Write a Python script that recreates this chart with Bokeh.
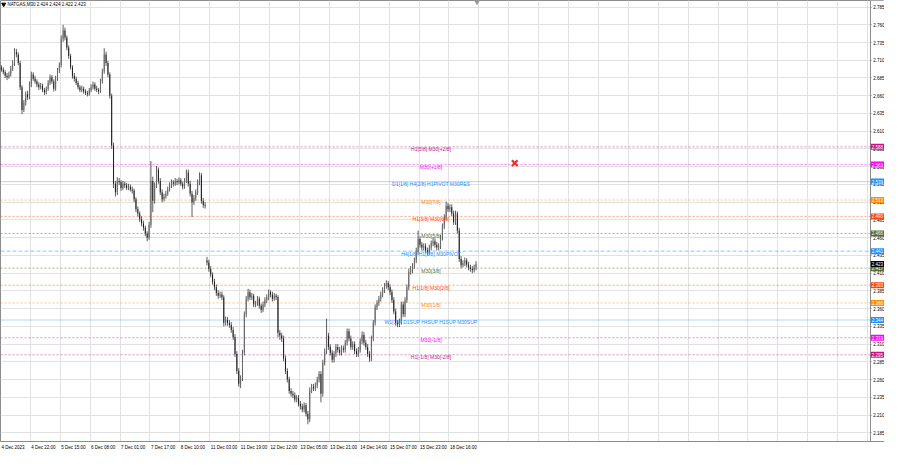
from bokeh.plotting import figure
from bokeh.models import (Range1d, FixedTicker, Span, Label, NumeralTickFormatter,
                          BoxAnnotation)
from bokeh.core.properties import value
from bokeh.embed import file_html
from bokeh.resources import INLINE

# ---------------- data ----------------
title_text = "NATGAS,M30 2.424 2.424 2.422 2.423"
first_open = 2.700
gap_index = 110          # first bar after the weekend gap
gap_open = 2.428

close = [
    2.697, 2.693, 2.688, 2.686, 2.690, 2.698, 2.705, 2.722, 2.718, 2.706,
    2.672, 2.640, 2.650, 2.662, 2.658, 2.676, 2.690, 2.684, 2.680, 2.676,
    2.672, 2.674, 2.668, 2.665, 2.670, 2.678, 2.686, 2.680, 2.670, 2.684,
    2.696, 2.703, 2.740, 2.752, 2.742, 2.728, 2.716, 2.700, 2.688, 2.684,
    2.678, 2.672, 2.668, 2.670, 2.666, 2.664, 2.662, 2.668, 2.672, 2.676,
    2.670, 2.668, 2.666, 2.680, 2.694, 2.718, 2.706, 2.690, 2.660, 2.590,
    2.536, 2.524, 2.540, 2.538, 2.530, 2.536, 2.534, 2.530, 2.532, 2.528,
    2.526, 2.514, 2.500, 2.494, 2.486, 2.480, 2.474, 2.466, 2.460, 2.478,
    2.540, 2.512, 2.534, 2.556, 2.540, 2.524, 2.514, 2.518, 2.522, 2.528,
    2.534, 2.538, 2.536, 2.540, 2.538, 2.541, 2.536, 2.532, 2.540, 2.552,
    2.536, 2.522, 2.510, 2.516, 2.524, 2.538, 2.548, 2.512, 2.506, 2.505,
    2.425, 2.416, 2.408, 2.398, 2.390, 2.382, 2.378, 2.380, 2.376, 2.340,
    2.344, 2.340, 2.337, 2.330, 2.320, 2.296, 2.272, 2.254, 2.262, 2.298,
    2.352, 2.374, 2.383, 2.376, 2.378, 2.366, 2.368, 2.374, 2.364, 2.358,
    2.366, 2.372, 2.376, 2.383, 2.380, 2.374, 2.378, 2.376, 2.326, 2.322,
    2.318, 2.290, 2.272, 2.260, 2.244, 2.240, 2.238, 2.232, 2.234, 2.226,
    2.222, 2.218, 2.224, 2.212, 2.204, 2.245, 2.250, 2.248, 2.252, 2.260,
    2.268, 2.240, 2.284, 2.300, 2.322, 2.306, 2.298, 2.288, 2.296, 2.306,
    2.302, 2.298, 2.304, 2.302, 2.312, 2.328, 2.318, 2.306, 2.310, 2.300,
    2.296, 2.302, 2.314, 2.323, 2.312, 2.306, 2.296, 2.290, 2.318, 2.340,
    2.362, 2.368, 2.374, 2.380, 2.386, 2.392, 2.396, 2.390, 2.383, 2.372,
    2.356, 2.340, 2.338, 2.342, 2.366, 2.352, 2.372, 2.390, 2.412, 2.414,
    2.420, 2.428, 2.440, 2.458, 2.450, 2.446, 2.448, 2.442, 2.440, 2.446,
    2.452, 2.455, 2.450, 2.446, 2.448, 2.460, 2.476, 2.489, 2.505, 2.500,
    2.503, 2.494, 2.482, 2.494, 2.470, 2.430, 2.421, 2.424, 2.428, 2.422,
    2.418, 2.416, 2.414, 2.418, 2.423,
]

high = [
    2.703, 2.700, 2.696, 2.692, 2.694, 2.702, 2.710, 2.727, 2.726, 2.721,
    2.709, 2.675, 2.654, 2.666, 2.667, 2.680, 2.694, 2.693, 2.688, 2.683,
    2.679, 2.678, 2.677, 2.671, 2.673, 2.682, 2.690, 2.689, 2.683, 2.688,
    2.699, 2.707, 2.745, 2.760, 2.756, 2.745, 2.731, 2.719, 2.703, 2.692,
    2.687, 2.681, 2.675, 2.674, 2.673, 2.669, 2.667, 2.671, 2.676, 2.680,
    2.679, 2.674, 2.671, 2.684, 2.698, 2.727, 2.722, 2.709, 2.693, 2.663,
    2.594, 2.540, 2.545, 2.544, 2.541, 2.540, 2.539, 2.537, 2.536, 2.535,
    2.532, 2.529, 2.517, 2.504, 2.497, 2.490, 2.484, 2.477, 2.469, 2.482,
    2.568, 2.546, 2.538, 2.561, 2.559, 2.544, 2.528, 2.522, 2.526, 2.532,
    2.538, 2.542, 2.541, 2.544, 2.543, 2.545, 2.544, 2.539, 2.544, 2.556,
    2.556, 2.540, 2.526, 2.520, 2.528, 2.542, 2.552, 2.551, 2.516, 2.510,
    2.433, 2.429, 2.420, 2.411, 2.402, 2.394, 2.386, 2.384, 2.384, 2.379,
    2.349, 2.348, 2.344, 2.341, 2.334, 2.324, 2.300, 2.276, 2.266, 2.302,
    2.356, 2.378, 2.388, 2.387, 2.382, 2.381, 2.371, 2.378, 2.377, 2.367,
    2.370, 2.376, 2.380, 2.387, 2.386, 2.384, 2.382, 2.381, 2.379, 2.330,
    2.326, 2.322, 2.294, 2.276, 2.264, 2.248, 2.244, 2.242, 2.238, 2.238,
    2.230, 2.226, 2.228, 2.227, 2.216, 2.249, 2.254, 2.254, 2.256, 2.264,
    2.272, 2.272, 2.288, 2.304, 2.346, 2.326, 2.310, 2.302, 2.300, 2.310,
    2.310, 2.306, 2.308, 2.308, 2.316, 2.332, 2.332, 2.322, 2.314, 2.314,
    2.304, 2.306, 2.318, 2.328, 2.327, 2.316, 2.310, 2.300, 2.322, 2.344,
    2.366, 2.372, 2.378, 2.384, 2.390, 2.396, 2.400, 2.399, 2.394, 2.387,
    2.376, 2.360, 2.344, 2.346, 2.370, 2.370, 2.376, 2.394, 2.416, 2.420,
    2.424, 2.432, 2.446, 2.470, 2.462, 2.454, 2.452, 2.452, 2.446, 2.450,
    2.456, 2.460, 2.459, 2.454, 2.452, 2.464, 2.480, 2.493, 2.511, 2.509,
    2.507, 2.507, 2.498, 2.498, 2.497, 2.474, 2.434, 2.428, 2.432, 2.431,
    2.426, 2.422, 2.420, 2.422, 2.427,
]

low = [
    2.694, 2.690, 2.685, 2.682, 2.684, 2.687, 2.695, 2.702, 2.714, 2.703,
    2.668, 2.634, 2.637, 2.646, 2.654, 2.655, 2.672, 2.681, 2.677, 2.672,
    2.668, 2.669, 2.665, 2.661, 2.662, 2.667, 2.675, 2.677, 2.666, 2.667,
    2.681, 2.692, 2.700, 2.736, 2.738, 2.724, 2.712, 2.697, 2.684, 2.680,
    2.675, 2.669, 2.665, 2.665, 2.663, 2.661, 2.659, 2.660, 2.665, 2.669,
    2.667, 2.665, 2.662, 2.664, 2.677, 2.691, 2.702, 2.686, 2.656, 2.585,
    2.530, 2.518, 2.520, 2.534, 2.526, 2.527, 2.530, 2.527, 2.527, 2.525,
    2.522, 2.510, 2.496, 2.490, 2.482, 2.476, 2.470, 2.462, 2.455, 2.457,
    2.474, 2.496, 2.508, 2.530, 2.536, 2.520, 2.510, 2.511, 2.515, 2.519,
    2.525, 2.530, 2.532, 2.533, 2.534, 2.535, 2.533, 2.528, 2.529, 2.537,
    2.532, 2.518, 2.489, 2.506, 2.512, 2.520, 2.534, 2.508, 2.502, 2.501,
    2.421, 2.412, 2.404, 2.394, 2.386, 2.378, 2.374, 2.375, 2.372, 2.335,
    2.336, 2.336, 2.333, 2.326, 2.316, 2.292, 2.268, 2.250, 2.248, 2.258,
    2.294, 2.348, 2.370, 2.372, 2.372, 2.362, 2.362, 2.364, 2.360, 2.354,
    2.355, 2.362, 2.368, 2.372, 2.376, 2.370, 2.371, 2.372, 2.320, 2.316,
    2.313, 2.286, 2.268, 2.256, 2.240, 2.236, 2.234, 2.228, 2.228, 2.222,
    2.218, 2.214, 2.214, 2.208, 2.197, 2.200, 2.241, 2.244, 2.244, 2.248,
    2.256, 2.228, 2.236, 2.280, 2.296, 2.302, 2.294, 2.284, 2.284, 2.292,
    2.298, 2.294, 2.294, 2.298, 2.298, 2.308, 2.314, 2.302, 2.302, 2.296,
    2.292, 2.292, 2.298, 2.310, 2.308, 2.302, 2.292, 2.285, 2.286, 2.314,
    2.336, 2.358, 2.364, 2.370, 2.376, 2.382, 2.388, 2.386, 2.379, 2.368,
    2.352, 2.336, 2.334, 2.334, 2.338, 2.348, 2.348, 2.368, 2.386, 2.408,
    2.410, 2.416, 2.424, 2.436, 2.446, 2.442, 2.442, 2.438, 2.436, 2.436,
    2.442, 2.448, 2.446, 2.442, 2.442, 2.444, 2.456, 2.472, 2.485, 2.496,
    2.496, 2.490, 2.478, 2.478, 2.466, 2.426, 2.417, 2.418, 2.420, 2.418,
    2.414, 2.412, 2.410, 2.411, 2.414,
]

time_labels = ["4 Dec 2023", "4 Dec 22:00", "5 Dec 15:00", "6 Dec 08:00",
               "7 Dec 01:00", "7 Dec 17:00", "8 Dec 10:00", "11 Dec 03:00",
               "11 Dec 19:00", "12 Dec 12:00", "13 Dec 05:00", "13 Dec 21:00",
               "14 Dec 14:00", "15 Dec 07:00", "15 Dec 23:00", "18 Dec 16:00"]
bars_per_label = 16

levels = [2.588, 2.563, 2.539, 2.513, 2.490, 2.466, 2.441,
          2.417, 2.393, 2.368, 2.344, 2.319, 2.295]
level_names = ["H1[5/8] M30[+2/8]", "M30[+1/8]", "D1[1/8] H4[2/8] H1PIVOT M30RES",
               "M30[7/8]", "H1[3/8] M30[6/8]", "M30[5/8]", "H4[1/8] H1[2/8] M30PIVOT",
               "M30[3/8]", "H1[1/8] M30[2/8]", "M30[1/8]",
               "W1[1/8] D1SUP H4SUP H1SUP M30SUP", "M30[-1/8]", "H1[-1/8] M30[-2/8]"]
level_colors = ["#C71585", "#FF00FF", "#1E90FF", "#FF8C00", "#FF4500", "#556B2F",
                "#1E90FF", "#556B2F", "#FF4500", "#FF8C00", "#1E90FF", "#FF00FF",
                "#C71585"]
level_styles = ["dot", "dot", "solid", "dot", "dot", "dot", "dash",
                "dot", "dot", "dot", "solid", "dot", "dot"]
bid_price = 2.423

cross_x = [274.7]
cross_y = [2.565]

y_tick_values = [2.185, 2.210, 2.235, 2.260, 2.285, 2.310, 2.335, 2.360, 2.385,
                 2.410, 2.435, 2.460, 2.485, 2.510, 2.535, 2.560, 2.585, 2.610,
                 2.635, 2.660, 2.685, 2.710, 2.735, 2.760, 2.785]

# ---------------- figure ----------------
FONT = "Liberation Sans"
AX_FONT = "4.5px"
PX_PER_BAR = 1.843
X_END = 472.6        # right edge of the frame (bars)
AXIS_X = 465.0       # price scale line (bars)

p = figure(width=884, height=452, output_backend="svg", toolbar_location=None,
           x_range=Range1d(-0.5, X_END), y_range=Range1d(2.1728, 2.7942),
           y_axis_location="right", min_border_left=0, min_border_top=0,
           min_border_right=0, min_border_bottom=0)
p.background_fill_color = "white"
p.border_fill_color = "white"
p.outline_line_color = "#8c8c8c"

# vertical grid every 16 bars; time labels start at their grid line
grid_ticks = [k * bars_per_label - 0.5 for k in range(30)]
p.xgrid.ticker = FixedTicker(ticks=grid_ticks)

char_w = {" ": 0.278, ":": 0.278, "D": 0.722, "e": 0.556, "c": 0.5}
def half_width_bars(s):
    em = sum(char_w.get(ch, 0.556) for ch in s)
    return em * 4.5 / 2.0 / PX_PER_BAR

label_ticks = [grid_ticks[k] + half_width_bars(t) + 0.4 for k, t in enumerate(time_labels)]
p.xaxis.ticker = FixedTicker(ticks=label_ticks)
p.xaxis.major_label_overrides = {t: s for t, s in zip(label_ticks, time_labels)}
p.xaxis.major_label_text_font = FONT
p.xaxis.major_label_text_font_size = AX_FONT
p.xaxis.major_label_text_color = "#000000"
p.xaxis.major_label_standoff = 3
p.xaxis.major_tick_out = 0
p.xaxis.major_tick_in = 0
p.xaxis.minor_tick_line_color = None
p.xaxis.axis_line_color = "#8c8c8c"
p.xaxis.major_tick_line_color = None

# price scale drawn at a fixed place inside the chart's right edge
p.yaxis.fixed_location = AXIS_X
p.yaxis.ticker = FixedTicker(ticks=y_tick_values)
p.yaxis.formatter = NumeralTickFormatter(format="0.000")
p.yaxis.major_label_text_font = FONT
p.yaxis.major_label_text_font_size = AX_FONT
p.yaxis.major_label_text_color = "#000000"
p.yaxis.major_label_standoff = 2
p.yaxis.major_tick_out = 1
p.yaxis.major_tick_in = 0
p.yaxis.minor_tick_line_color = None
p.yaxis.axis_line_color = "#8c8c8c"
p.yaxis.major_tick_line_color = "#8c8c8c"

p.xgrid.grid_line_color = "#e2e2e2"
p.ygrid.grid_line_color = "#e2e2e2"

# level lines (underlay, so the scale column can cover them)
dash_map = {"dot": "2 2", "dash": "4 2", "solid": "solid"}
for lv, col, st in zip(levels, level_colors, level_styles):
    alpha = 0.35 if st == "solid" else 0.5
    p.add_layout(Span(location=lv, dimension="width", line_color=col,
                      line_dash=dash_map[st], line_width=1, line_alpha=alpha,
                      level="underlay"))

# candles
n = len(close)
xs = list(range(n))
opens = [first_open] + close[:-1]
opens[gap_index] = gap_open
tops = [max(o, c) for o, c in zip(opens, close)]
bots = [min(o, c) for o, c in zip(opens, close)]
fills = ["#6a6a6a" if c >= o else "#1a1a1a" for o, c in zip(opens, close)]
p.segment(x0=xs, y0=low, x1=xs, y1=high, line_color="#333333", line_width=0.8)
p.vbar(x=xs, width=0.5, top=tops, bottom=bots, fill_color=fills, line_color=None)

# level names on the chart
text_x = [229.9] * len(levels)
text_y = [lv - 0.0033 for lv in levels]
p.text(x=text_x, y=text_y, text=level_names, text_color=level_colors,
       text_font=value(FONT), text_font_size="5px",
       text_align="center", text_baseline="middle")

# red cross object
p.scatter(x=cross_x, y=cross_y, marker="x", size=8, line_color="#E5332A",
          line_width=2.2)

# title and shift marker
p.scatter(x=[1.2], y=[2.7888], marker="inverted_triangle", size=4,
          fill_color="#000000", line_color="#000000")
p.text(x=[3.2], y=[2.7888], text=[title_text], text_color="#000000",
       text_font=value(FONT), text_font_size="4.5px", text_baseline="middle")
p.scatter(x=[254.5], y=[2.7925], marker="inverted_triangle", size=5,
          fill_color="#9a9a9a", line_color="#9a9a9a")

# price-scale column: white background behind the scale
p.add_layout(BoxAnnotation(left=AXIS_X, fill_color="white", fill_alpha=1,
                           line_color=None, level="glyph"))

# coloured price boxes on the scale
for lv, col in zip(levels + [bid_price], level_colors + ["#000000"]):
    p.add_layout(Label(x=AXIS_X, y=lv, x_offset=0.5, text="%.3f" % lv,
                       text_font=FONT, text_font_size=AX_FONT, text_color="white",
                       text_align="left", text_baseline="middle",
                       background_fill_color=col, padding=1))

open("out.html", "w").write(file_html(p, INLINE))
